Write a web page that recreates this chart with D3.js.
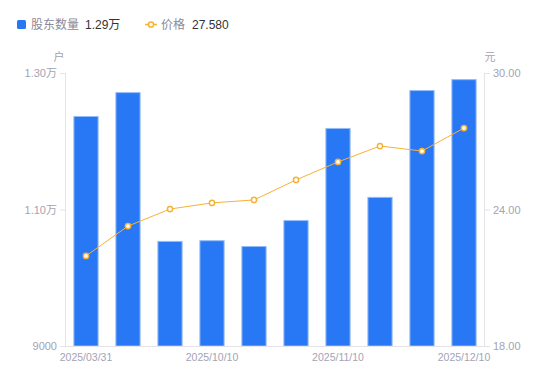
<!DOCTYPE html>
<html><head><meta charset="utf-8">
<script src="https://cdn.jsdelivr.net/npm/d3@7/dist/d3.min.js"></script>
<style>body{margin:0;background:#fff;}svg{display:block;font-family:"Noto Sans CJK SC","Noto Sans",sans-serif;}</style>
</head><body>
<svg id="c" width="550" height="381"></svg>
<script>
const categories = ["2025/03/31","2025/06/30","2025/09/30","2025/10/10","2025/10/20","2025/10/31","2025/11/10","2025/11/20","2025/11/28","2025/12/10"];
const holders = [12370, 12720, 10540, 10550, 10465, 10845, 12195, 11185, 12750, 12910];
const prices = [21.96, 23.27, 24.02, 24.29, 24.42, 25.30, 26.09, 26.79, 26.57, 27.58];
const leftTicks = [9000, 11000, 13000];
const leftTickLabels = ["9000", "1.10万", "1.30万"];
const rightTicks = [18, 24, 30];
const xLabelIdx = [0, 3, 6, 9];

const svg = d3.select("#c");
const L = 65, R = 485, T = 73, B = 346;
const axisColor = "#e3e3e8", labelColor = "#a3a3b3";
const numFont = "'Liberation Sans', Arial, 'Noto Sans CJK SC', sans-serif";

const x = d3.scaleBand().domain(categories).range([L, R]).paddingInner(0.4).paddingOuter(0.2);
const yL = d3.scaleLinear().domain([9000, 13000]).range([B, T]);
const yR = d3.scaleLinear().domain([18, 30]).range([B, T]);

// bars
svg.append("g").selectAll("rect").data(holders).join("rect")
  .attr("x", (d,i) => x(categories[i]) + 0.5)
  .attr("y", d => yL(d) + 0.5)
  .attr("width", x.bandwidth() - 1)
  .attr("height", d => B - yL(d) - 0.5)
  .attr("fill", "#2878f5")
  .attr("stroke", "#93bbf8").attr("stroke-width", 1);

// axes
function styleAxis(g, size){
  g.selectAll(".domain").remove();
  g.selectAll(".tick line").attr("stroke", axisColor);
  g.selectAll(".tick text").attr("fill", labelColor).style("font-size", size).style("font-family", numFont);
}
const gl = svg.append("g").attr("transform", `translate(${L},0)`)
  .call(d3.axisLeft(yL).tickValues(leftTicks).tickSize(5).tickPadding(3).tickFormat((d) => leftTickLabels[leftTicks.indexOf(d)]));
styleAxis(gl, "11px");
const gr = svg.append("g").attr("transform", `translate(${R},0)`)
  .call(d3.axisRight(yR).tickValues(rightTicks).tickSize(5).tickPadding(3).tickFormat(d3.format(".2f")));
styleAxis(gr, "11px");
const gb = svg.append("g").attr("transform", `translate(0,${B})`)
  .call(d3.axisBottom(x).tickValues(xLabelIdx.map(i => categories[i])).tickSize(0).tickPadding(8));
styleAxis(gb, "10.5px");

svg.append("line").attr("x1", L+0.5).attr("x2", L+0.5).attr("y1", T).attr("y2", B).attr("stroke", axisColor);
svg.append("line").attr("x1", R-0.5).attr("x2", R-0.5).attr("y1", T).attr("y2", B).attr("stroke", axisColor);
svg.append("line").attr("x1", L).attr("x2", R).attr("y1", B+0.5).attr("y2", B+0.5).attr("stroke", axisColor);

// unit labels
svg.append("text").attr("x", 59).attr("y", 61).attr("text-anchor", "middle").attr("fill", labelColor).style("font-size", "11px").text("户");
svg.append("text").attr("x", 490).attr("y", 61).attr("text-anchor", "middle").attr("fill", labelColor).style("font-size", "11px").text("元");

// line
const cx = (i) => x(categories[i]) + x.bandwidth()/2;
svg.append("path").datum(prices)
  .attr("d", d3.line().x((d,i) => cx(i)).y(d => yR(d)))
  .attr("fill", "none").attr("stroke", "#f7b236").attr("stroke-width", 1);
svg.append("g").selectAll("circle").data(prices).join("circle")
  .attr("cx", (d,i) => cx(i)).attr("cy", d => yR(d)).attr("r", 2.6)
  .attr("fill", "#fff").attr("stroke", "#f7b236").attr("stroke-width", 1.5);

// legend
const lg = svg.append("g").style("font-size", "12px");
lg.append("rect").attr("x", 17).attr("y", 20).attr("width", 9).attr("height", 9).attr("rx", 1.5).attr("fill", "#2878f5");
lg.append("text").attr("x", 31).attr("y", 29).attr("fill", "#8a8a9a").text("股东数量");
lg.append("text").attr("x", 85).attr("y", 29).attr("fill", "#333").style("font-family", numFont).style("font-size", "12px").text("1.29万");
lg.append("line").attr("x1", 145).attr("x2", 157).attr("y1", 24.5).attr("y2", 24.5).attr("stroke", "#f7b236").attr("stroke-width", 1.5);
lg.append("circle").attr("cx", 151).attr("cy", 24.5).attr("r", 2.6).attr("fill", "#fff").attr("stroke", "#f7b236").attr("stroke-width", 1.5);
lg.append("text").attr("x", 161).attr("y", 29).attr("fill", "#8a8a9a").text("价格");
lg.append("text").attr("x", 192).attr("y", 29).attr("fill", "#333").style("font-family", numFont).style("font-size", "12px").text("27.580");
</script>
</body></html>
